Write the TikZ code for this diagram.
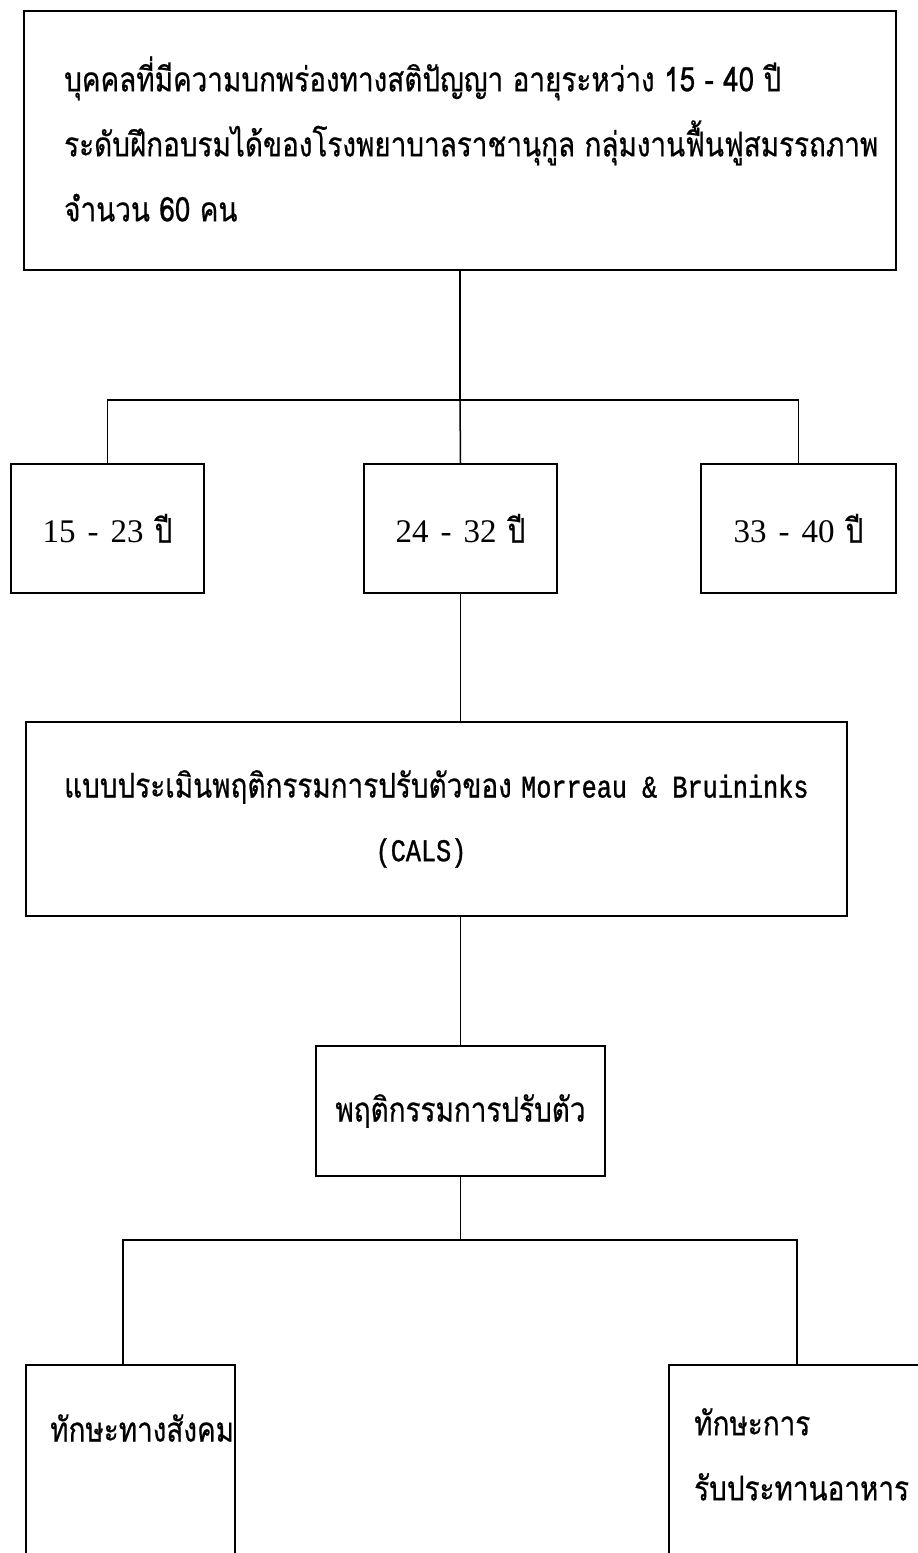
\documentclass[tikz,border=0pt]{standalone}
\usepackage{fontspec}
\newfontfamily\thaifont[Script=Thai,FakeStretch=0.82,FakeBold=0.6]{Loma}
\newfontfamily\monofont[FakeStretch=0.8,FakeBold=1.0]{Liberation Mono}
\newfontfamily\seriffont{Liberation Serif}
\newcommand{\agetext}[2]{{\seriffont\fontsize{33}{36}\selectfont #1\hspace{12pt}-\hspace{12pt}#2}\hspace{11pt}ปี}
\begin{document}
\begin{tikzpicture}[x=1pt,y=-1pt,
  box/.style={draw, line width=1.5pt, rectangle, inner sep=0pt,
    font=\thaifont\fontsize{34}{65}\selectfont},
  txt/.style={inner sep=0pt, font=\thaifont\fontsize{34}{65}\selectfont},
  link/.style={draw, line width=1.5pt}]
\useasboundingbox (0,0) rectangle (918,1553);
\clip (0,0) rectangle (918,1553);
% top box
\node[box, minimum width=872pt, minimum height=259pt] (top) at (460,140.5) {};
\node[txt, anchor=west, align=left] (topt) at (64,139)
 {บุคคลที่มีความบกพร่องทางสติปัญญา อายุระหว่าง 15 - 40 ปี\\
  ระดับฝึกอบรมได้ของโรงพยาบาลราชานุกูล กลุ่มงานฟื้นฟูสมรรถภาพ\\
  จำนวน 60 คน};
% age boxes
\node[box, minimum width=193pt, minimum height=129pt] (b1) at (107.5,528.5) {\agetext{15}{23}};
\node[box, minimum width=193pt, minimum height=129pt] (b2) at (460.5,528.5) {\agetext{24}{32}};
\node[box, minimum width=195pt, minimum height=129pt] (b3) at (798.5,528.5) {\agetext{33}{40}};
% instrument box
\node[box, minimum width=821pt, minimum height=194pt] (big) at (436.5,819) {};
\node[txt, anchor=west] (bigt1) at (64,787)
 {แบบประเมินพฤติกรรมการปรับตัวของ {\monofont\fontsize{31.5}{65}\selectfont Morreau \& Bruininks}};
\node[txt] (bigt2) at (421,853) {\monofont\fontsize{31.5}{65}\selectfont (CALS)};
% behaviour box
\node[box, minimum width=289pt, minimum height=130pt] (mid) at (460.5,1111) {พฤติกรรมการปรับตัว};
% bottom boxes (cut by the page edge)
\node[box, minimum width=209pt, minimum height=235pt] (bl) at (130.5,1482.5) {};
\node[box, minimum width=291pt, minimum height=235pt] (br) at (814.5,1482.5) {};
\node[txt, anchor=west] (blt) at (50,1428) {ทักษะทางสังคม};
\node[txt, anchor=north west, align=left] (brt) at (694,1408) {ทักษะการ\\รับประทานอาหาร};
% connectors
\coordinate (j1) at (460,400);
\coordinate (j2) at (460.5,1240);
\draw[link] (top.south) -- (j1);
\draw[link] (b1.north) |- (j1) -| (b3.north);
\draw[link] (j1) -- (b2.north);
\draw[link] (b2.south) -- (b2.south |- big.north);
\draw[link] (big.south -| mid.north) -- (mid.north);
\draw[link] (mid.south) -- (j2);
\draw[link] ([xshift=-7.5pt]bl.north) |- (j2) -| ([xshift=-17.5pt]br.north);
\end{tikzpicture}
\end{document}
